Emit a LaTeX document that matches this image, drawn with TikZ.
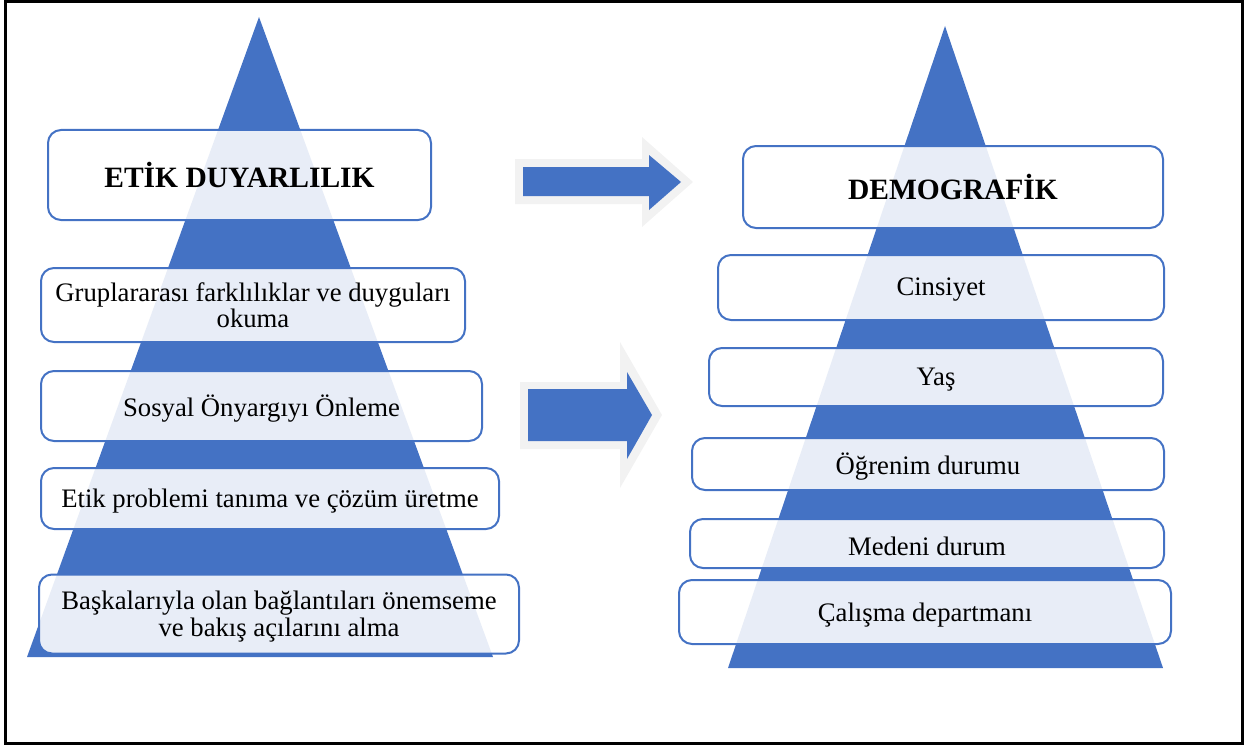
\documentclass[tikz,border=0pt]{standalone}
\usepackage{fontspec}
\setmainfont{Liberation Serif}
\definecolor{pblue}{HTML}{4472C4}
\definecolor{agrey}{HTML}{F2F2F2}
\newcommand\lowr[1]{\raisebox{-2.5pt}[\height][\depth]{#1}}
\begin{document}
\begin{tikzpicture}[x=1pt,y=-1pt,
  box/.style={draw=pblue, line width=2pt, rounded corners=13pt, fill=white, fill opacity=0.88, text opacity=1, align=center, inner sep=0pt,
    font=\fontsize{26.7}{26.5}\selectfont},
  title/.style={box, font=\fontsize{29.5}{30}\selectfont\bfseries}]
\useasboundingbox (0,0) rectangle (1260,749);
\draw[line width=3pt] (5,1.5) rectangle (1242,743);
% pyramids
\fill[pblue] (27,657) -- (493,657) -- (259,17) -- cycle;
\fill[pblue] (728,668) -- (1163,668) -- (945,26) -- cycle;
% arrows
\fill[agrey] (515,159) -- (642,159) -- (642,137) -- (693,182) -- (642,227) -- (642,204) -- (515,204) -- cycle;
\fill[pblue] (523,167) -- (649,167) -- (649,155) -- (681,182) -- (649,210) -- (649,196) -- (523,196) -- cycle;
\fill[agrey] (520,382) -- (620,382) -- (620,342) -- (662,415) -- (620,488) -- (620,449) -- (520,449) -- cycle;
\fill[pblue] (528,389) -- (627,389) -- (627,372) -- (652,415) -- (627,459) -- (627,441) -- (528,441) -- cycle;
% left boxes
\node[title, minimum width=383, minimum height=90] (l1) at (239.5,175) {ETİK DUYARLILIK};
\node[box, minimum width=424, minimum height=74] (l2) at (253,305) {Gruplararası farklılıklar ve duyguları\\okuma};
\node[box, minimum width=441, minimum height=70] (l3) at (261.5,406) {\lowr{Sosyal Önyargıyı Önleme}};
\node[box, minimum width=458, minimum height=61] (l4) at (270,498.5) {\lowr{Etik problemi tanıma ve çözüm üretme}};
\node[box, minimum width=480, minimum height=79] (l5) at (279,614) {\lowr{Başkalarıyla olan bağlantıları önemseme}\\\lowr{ve bakış açılarını alma}};
% right boxes
\node[title, minimum width=420, minimum height=82] (r1) at (953,187) {DEMOGRAFİK};
\node[box, minimum width=446, minimum height=65] (r2) at (941,287.5) {\lowr{Cinsiyet}};
\node[box, minimum width=454, minimum height=58] (r3) at (936,377) {\lowr{Yaş}};
\node[box, minimum width=472, minimum height=52] (r4) at (928,464) {\lowr{Öğrenim durumu}};
\node[box, minimum width=474, minimum height=49] (r5) at (927,543.5) {\lowr{Medeni durum}};
\node[box, minimum width=492, minimum height=64] (r6) at (925,612) {\raisebox{-3.5pt}[\height][\depth]{Çalışma departmanı}};
\end{tikzpicture}
\end{document}
